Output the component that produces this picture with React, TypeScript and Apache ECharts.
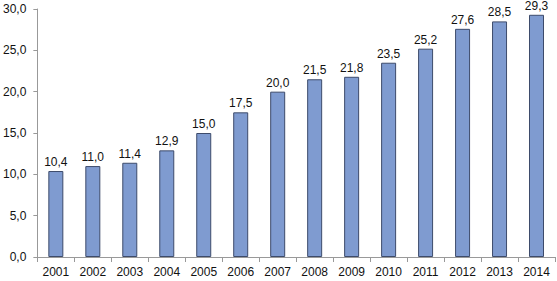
import React, { useEffect, useRef } from "react";
import * as echarts from "echarts";

const categories = ["2001","2002","2003","2004","2005","2006","2007","2008","2009","2010","2011","2012","2013","2014"];
const values = [10.4, 11.0, 11.4, 12.9, 15.0, 17.5, 20.0, 21.5, 21.8, 23.5, 25.2, 27.6, 28.5, 29.3];

const fmt = (v: number) => v.toFixed(1).replace(".", ",");

export default function App() {
  const ref = useRef<HTMLDivElement>(null);
  useEffect(() => {
    const chart = echarts.init(ref.current!, null, { renderer: "svg" });
    chart.setOption({
      animation: false,
      grid: { left: 37, right: 2, top: 9, bottom: 24, containLabel: false },
      xAxis: {
        type: "category",
        data: categories,
        axisLine: { show: true, lineStyle: { color: "#999", width: 1 } },
        axisTick: { show: true, alignWithLabel: false, length: 5, lineStyle: { color: "#999" } },
        axisLabel: { color: "#111", fontFamily: "Liberation Sans, Arial", fontSize: 12, margin: 9 },
      },
      yAxis: {
        type: "value",
        min: 0,
        max: 30,
        interval: 5,
        axisLine: { show: true, lineStyle: { color: "#999", width: 1 } },
        axisTick: { show: true, length: 4, lineStyle: { color: "#999" } },
        splitLine: { show: false },
        axisLabel: {
          color: "#111",
          fontFamily: "Liberation Sans, Arial",
          fontSize: 12,
          margin: 11,
          formatter: (v: number) => fmt(v),
        },
      },
      series: [
        {
          type: "bar",
          data: values,
          barWidth: 15,
          itemStyle: { color: "#7f9bd0", borderColor: "#3d4b6b", borderWidth: 1 },
          label: {
            show: true,
            position: "top",
            distance: 3,
            color: "#111",
            fontFamily: "Liberation Sans, Arial",
            fontSize: 12,
            formatter: (p: any) => fmt(p.value),
          },
        },
      ],
    });
    return () => chart.dispose();
  }, []);
  return <div ref={ref} style={{ width: 557, height: 281, position: "absolute", left: 0, top: 0 }} />;
}
